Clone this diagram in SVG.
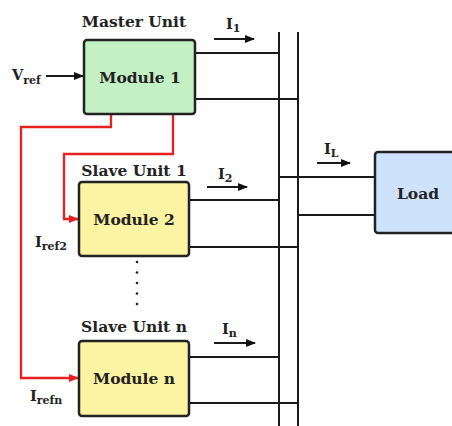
<svg xmlns="http://www.w3.org/2000/svg" width="452" height="426" viewBox="0 0 452 426">
<defs>
<marker id="ab" markerWidth="10" markerHeight="8" refX="9" refY="4" orient="auto" markerUnits="userSpaceOnUse"><path d="M0,0 L10,4 L0,8 z" fill="#111"/></marker>
<marker id="ar" markerWidth="10" markerHeight="8" refX="9" refY="4" orient="auto" markerUnits="userSpaceOnUse"><path d="M0,0 L10,4 L0,8 z" fill="#e82020"/></marker>
<style>
.box{stroke:#222;stroke-width:2.5}
.t{font-family:"DejaVu Serif","Liberation Serif",serif;font-weight:bold;fill:#222;font-size:15.5px;text-anchor:middle}
.s{font-family:"DejaVu Serif","Liberation Serif",serif;font-weight:bold;fill:#222;font-size:14.5px}
.sub{font-size:11px}
.w{stroke:#1a1a1a;stroke-width:2;fill:none}
.r{stroke:#e82020;stroke-width:2.3;fill:none}
</style>
</defs>
<rect width="452" height="426" fill="#fff"/>
<g id="connectors">
<line class="w" x1="279" y1="32" x2="279" y2="426"/>
<line class="w" x1="298" y1="32" x2="298" y2="426"/>
<line class="w" x1="195" y1="53" x2="279" y2="53"/>
<line class="w" x1="195" y1="99" x2="298" y2="99"/>
<line class="w" x1="189" y1="200" x2="279" y2="200"/>
<line class="w" x1="189" y1="247" x2="298" y2="247"/>
<line class="w" x1="189" y1="357" x2="279" y2="357"/>
<line class="w" x1="189" y1="403" x2="298" y2="403"/>
<line class="w" x1="279" y1="177" x2="375" y2="177"/>
<line class="w" x1="298" y1="215" x2="375" y2="215"/>
<line class="w" x1="46" y1="76" x2="83" y2="76" marker-end="url(#ab)"/>
<line class="w" x1="214" y1="39" x2="254" y2="39" marker-end="url(#ab)"/>
<line class="w" x1="207" y1="187" x2="247" y2="187" marker-end="url(#ab)"/>
<line class="w" x1="214" y1="343" x2="255" y2="343" marker-end="url(#ab)"/>
<line class="w" x1="317" y1="163" x2="350" y2="163" marker-end="url(#ab)"/>
<path class="r" d="M111 115 V127 H21 V378 H78" marker-end="url(#ar)"/>
<path class="r" d="M173 115 V154 H64 V219 H78" marker-end="url(#ar)"/>
<g fill="#222"><circle cx="137" cy="262" r="1.3"/><circle cx="137" cy="272.5" r="1.3"/><circle cx="137" cy="283" r="1.3"/><circle cx="137" cy="293.5" r="1.3"/><circle cx="137" cy="304" r="1.3"/></g>
</g>
<g id="master">
<rect class="box" x="84" y="40" width="111" height="74" rx="3" fill="#c3f1c5"/>
<text class="t" x="134" y="27">Master Unit</text>
<text class="t" x="140" y="83">Module 1</text>
</g>
<g id="slave1">
<rect class="box" x="79" y="182" width="110" height="74" rx="3" fill="#fcf3a3"/>
<text class="t" x="134" y="176">Slave Unit 1</text>
<text class="t" x="134" y="225">Module 2</text>
</g>
<g id="slaven">
<rect class="box" x="79" y="341" width="110" height="75" rx="3" fill="#fcf3a3"/>
<text class="t" x="134" y="332">Slave Unit n</text>
<text class="t" x="134" y="384">Module n</text>
</g>
<g id="load">
<rect class="box" x="375" y="152" width="90" height="81" rx="3" fill="#cfe2fc"/>
<text class="t" x="418" y="199">Load</text>
</g>
<g id="labels">
<text class="s" x="12" y="80">V<tspan class="sub" dy="4">ref</tspan></text>
<text class="s" x="226" y="29">I<tspan class="sub" dy="3">1</tspan></text>
<text class="s" x="218" y="179">I<tspan class="sub" dy="3">2</tspan></text>
<text class="s" x="222" y="334">I<tspan class="sub" dy="3">n</tspan></text>
<text class="s" x="324" y="154">I<tspan class="sub" dy="3">L</tspan></text>
<text class="s" x="35" y="247">I<tspan class="sub" dy="3">ref2</tspan></text>
<text class="s" x="30" y="401">I<tspan class="sub" dy="3">refn</tspan></text>
</g>
</svg>
